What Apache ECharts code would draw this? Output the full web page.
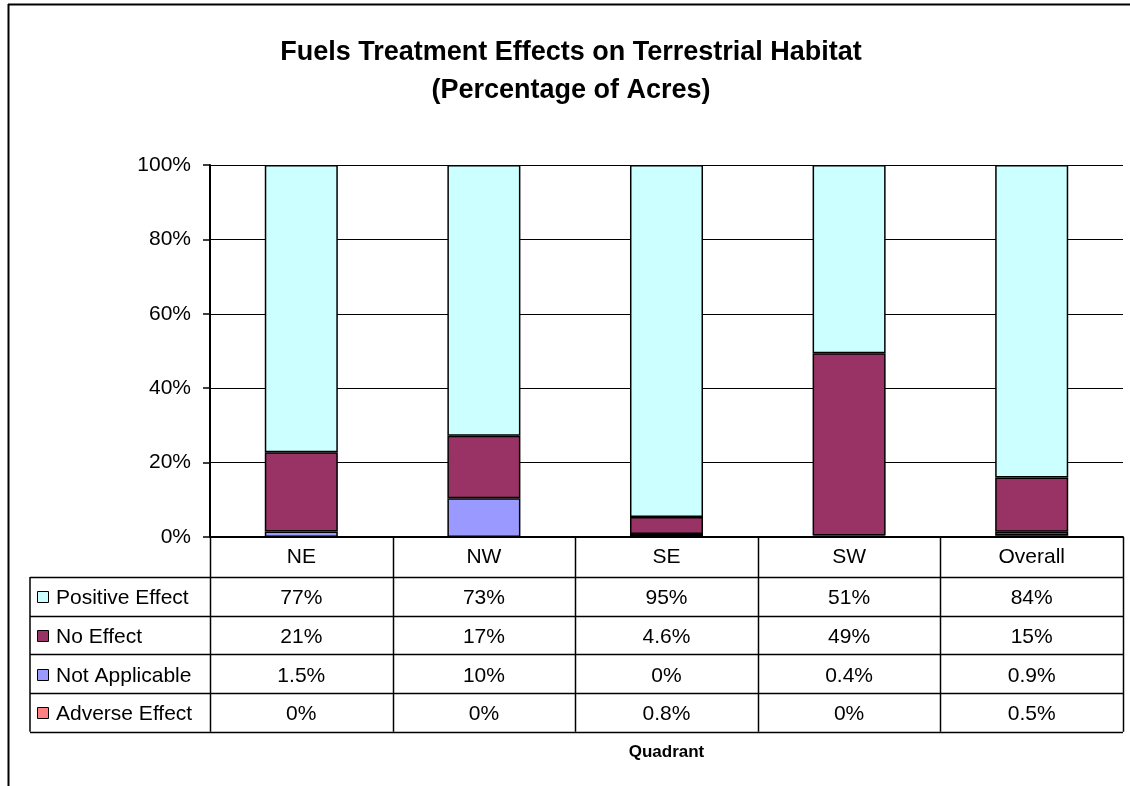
<!DOCTYPE html>
<html>
<head>
<meta charset="utf-8">
<script src="https://cdn.jsdelivr.net/npm/echarts@6/dist/echarts.min.js"></script>
<style>
  html, body { margin: 0; padding: 0; background: #fff; }
  #main { width: 1130px; height: 786px; }
</style>
</head>
<body>
<div id="main"></div>
<script>
// data
const categories = ["NE", "NW", "SE", "SW", "Overall"];
const positiveEffect = [77.2, 72.8, 94.6, 50.6, 84.0];
const noEffect = [21.3, 16.8, 4.6, 49.0, 14.6];
const notApplicable = [1.5, 10.4, 0, 0.4, 0.9];
const adverseEffect = [0, 0, 0.8, 0, 0.5];
const yTicks = [0, 20, 40, 60, 80, 100];

const FONT = "Liberation Sans, Arial, sans-serif";

// stacked bottom -> top
const seriesDefs = [
  { name: "Adverse Effect", data: adverseEffect, color: "#ff8080" },
  { name: "Not Applicable", data: notApplicable, color: "#9999ff" },
  { name: "No Effect", data: noEffect, color: "#993366" },
  { name: "Positive Effect", data: positiveEffect, color: "#ccffff" },
];

// layout of the plot / data table
const plotLeft = 210, plotRight = 1123, plotTop = 165, plotBottom = 537;
const legendLeft = 30;
const headH = 40, rowH = 38.7;
const colW = (plotRight - plotLeft) / categories.length;

function fmt(v) {
  if (v === 0) return "0%";
  if (v < 10) return v.toFixed(1) + "%";
  return Math.round(v) + "%";
}

const chartDom = document.getElementById("main");
const chartInstance = echarts.init(chartDom);

const graphic = [];
const line = (x1, y1, x2, y2, w) => graphic.push({
  type: "line", silent: true,
  shape: { x1, y1, x2, y2 },
  style: { stroke: "#000", lineWidth: w || 1.5 },
});

// outer chart frame (top + left)
line(8, 4.5, 1130, 4.5, 2);
line(8.5, 4, 8.5, 786, 2);

// table rows (legend order = top of stack first)
const tableRows = seriesDefs.slice().reverse();
const rowTop = (r) => plotBottom + headH + rowH * r;
const tableBottom = rowTop(tableRows.length);
for (let r = 0; r <= tableRows.length; r++) {
  const y = Math.round(rowTop(r)) + 0.5;
  line(legendLeft, y, plotRight, y);
}
line(legendLeft, rowTop(0), legendLeft, tableBottom);
for (let c = 0; c <= categories.length; c++) {
  const x = Math.round(plotLeft + colW * c) + 0.5;
  line(x, plotBottom, x, tableBottom);
}
tableRows.forEach((s, r) => {
  const cy = rowTop(r) + rowH / 2 + 2;
  graphic.push({
    type: "rect", silent: true,
    shape: { x: 37.5, y: Math.round(cy - 7) + 0.5, width: 11, height: 11 },
    style: { fill: s.color, stroke: "#000", lineWidth: 1 },
  });
  graphic.push({
    type: "text", silent: true, x: 56, y: cy,
    style: { text: s.name, font: "21px " + FONT, fill: "#000", verticalAlign: "middle", align: "left" },
  });
  s.data.forEach((v, c) => {
    graphic.push({
      type: "text", silent: true, x: plotLeft + colW * (c + 0.5), y: cy,
      style: { text: fmt(v), font: "21px " + FONT, fill: "#000", verticalAlign: "middle", align: "center" },
    });
  });
});
graphic.push({
  type: "text", silent: true, x: (plotLeft + plotRight) / 2, y: 752,
  style: { text: "Quadrant", font: "bold 17px " + FONT, fill: "#000", verticalAlign: "middle", align: "center" },
});

const option = {
  backgroundColor: "#fff",
  animation: false,
  textStyle: { fontFamily: FONT },
  title: {
    text: "Fuels Treatment Effects on Terrestrial Habitat\n(Percentage of Acres)",
    left: 566,
    textAlign: "center",
    top: 29,
    textStyle: { fontSize: 27, fontWeight: "bold", color: "#000", lineHeight: 38, fontFamily: FONT },
  },
  grid: {
    left: plotLeft,
    right: 1130 - plotRight,
    top: plotTop,
    bottom: 786 - plotBottom,
  },
  xAxis: {
    type: "category",
    data: categories,
    axisLine: { lineStyle: { color: "#000", width: 2 } },
    axisTick: { show: false },
    axisLabel: { color: "#000", fontSize: 21, margin: 10, fontFamily: FONT },
  },
  yAxis: {
    type: "value",
    min: 0,
    max: 100,
    interval: 20,
    axisLine: { show: true, lineStyle: { color: "#000", width: 2 } },
    axisTick: { show: true, length: 7, lineStyle: { color: "#000", width: 1.5 } },
    axisLabel: {
      color: "#000", fontSize: 21, margin: 19, fontFamily: FONT,
      formatter: (v) => (yTicks.includes(v) ? v + "%" : ""),
    },
    splitLine: { lineStyle: { color: "#000", width: 1 } },
  },
  series: seriesDefs.map((s) => ({
    name: s.name,
    type: "bar",
    stack: "total",
    barWidth: "40%",
    // zero segments are not drawn (no stray border line)
    data: s.data.map((v) => (v === 0 ? "-" : v)),
    itemStyle: { color: s.color, borderColor: "#000", borderWidth: 1.5 },
  })),
  graphic: graphic,
};

chartInstance.setOption(option);
</script>
</body>
</html>
